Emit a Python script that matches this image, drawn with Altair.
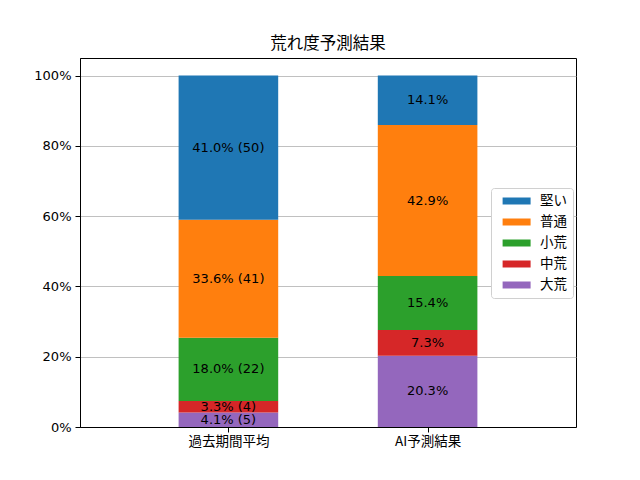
import altair as alt
import pandas as pd

categories = ["過去期間平均", "AI予測結果"]
series = ["大荒", "中荒", "小荒", "普通", "堅い"]  # bottom to top
colors = ["#9467bd", "#d62728", "#2ca02c", "#ff7f0e", "#1f77b4"]
past_pct = [4.1, 3.3, 18.0, 33.6, 41.0]
past_cnt = [5, 4, 22, 41, 50]
ai_pct = [20.3, 7.3, 15.4, 42.9, 14.1]
legend_order = ["堅い", "普通", "小荒", "中荒", "大荒"]

rows = []
for ci, (cat, vals) in enumerate(zip(categories, [past_pct, ai_pct])):
    base = 0.0
    for si, s in enumerate(series):
        v = vals[si] / 100.0
        if ci == 0:
            lab = f"{vals[si]:.1f}% ({past_cnt[si]})"
        else:
            lab = f"{vals[si]:.1f}%"
        rows.append({"cat": cat, "xi": ci, "x0": ci - 0.25, "x1": ci + 0.25,
                     "series": s, "y0": base, "y1": base + v,
                     "ym": base + v / 2, "label": lab})
        base += v
df = pd.DataFrame(rows)

CJK = "Noto Sans CJK JP"
NUM = "DejaVu Sans, Noto Sans CJK JP"

xscale = alt.Scale(domain=[-0.745, 1.745], nice=False, zero=False)
yscale = alt.Scale(domain=[0, 1.05], nice=False, zero=True)

xaxis = alt.Axis(values=[0, 1], labelExpr="datum.value == 0 ? '過去期間平均' : 'AI予測結果'",
                 title=None, grid=False, labelFontSize=13.5, labelFont=CJK, labelColor="black",
                 tickColor="black", tickSize=5, domainColor="black", labelPadding=2)
yaxis = alt.Axis(values=[0, 0.2, 0.4, 0.6, 0.8, 1.0], format=".0%", title=None,
                 grid=True, gridColor="#b0b0b0", gridWidth=0.8,
                 labelFontSize=13, labelFont=NUM, labelColor="black",
                 tickColor="black", tickSize=5, domainColor="black", labelPadding=4)

bars = alt.Chart(df).mark_rect().encode(
    x=alt.X("x0:Q", scale=xscale, axis=xaxis),
    x2="x1:Q",
    y=alt.Y("y0:Q", scale=yscale, axis=yaxis),
    y2="y1:Q",
    color=alt.Color("series:N",
                    scale=alt.Scale(domain=series, range=colors),
                    sort=legend_order,
                    legend=alt.Legend(title=None, orient="none", legendX=411, legendY=130,
                                      values=legend_order,
                                      labelFont=CJK, labelFontSize=13.5, labelColor="black",
                                      labelOffset=29,
                                      symbolType="M-0.2,-0.5L3.8,-0.5L3.8,0.5L-0.2,0.5Z",
                                      symbolSize=196, symbolStrokeWidth=0,
                                      rowPadding=7, padding=6,
                                      fillColor="white", strokeColor="#d0d0d0",
                                      cornerRadius=3)),
)

texts = alt.Chart(df).mark_text(font=NUM, fontSize=13, color="black").encode(
    x=alt.X("xi:Q", scale=xscale),
    y=alt.Y("ym:Q", scale=yscale),
    text="label:N",
)

chart = alt.layer(bars, texts).properties(
    width=496, height=369,
    background="white",
    title=alt.Title("荒れ度予測結果", font=CJK, fontSize=16.5, fontWeight="normal",
                    color="black", offset=6),
    autosize=alt.AutoSizeParams(type="none"),
    padding={"left": 72, "top": 50, "right": 40, "bottom": 45},
).configure_view(stroke="black", strokeWidth=1)

chart.save("out.html", embed_options={"renderer": "svg", "actions": False})
